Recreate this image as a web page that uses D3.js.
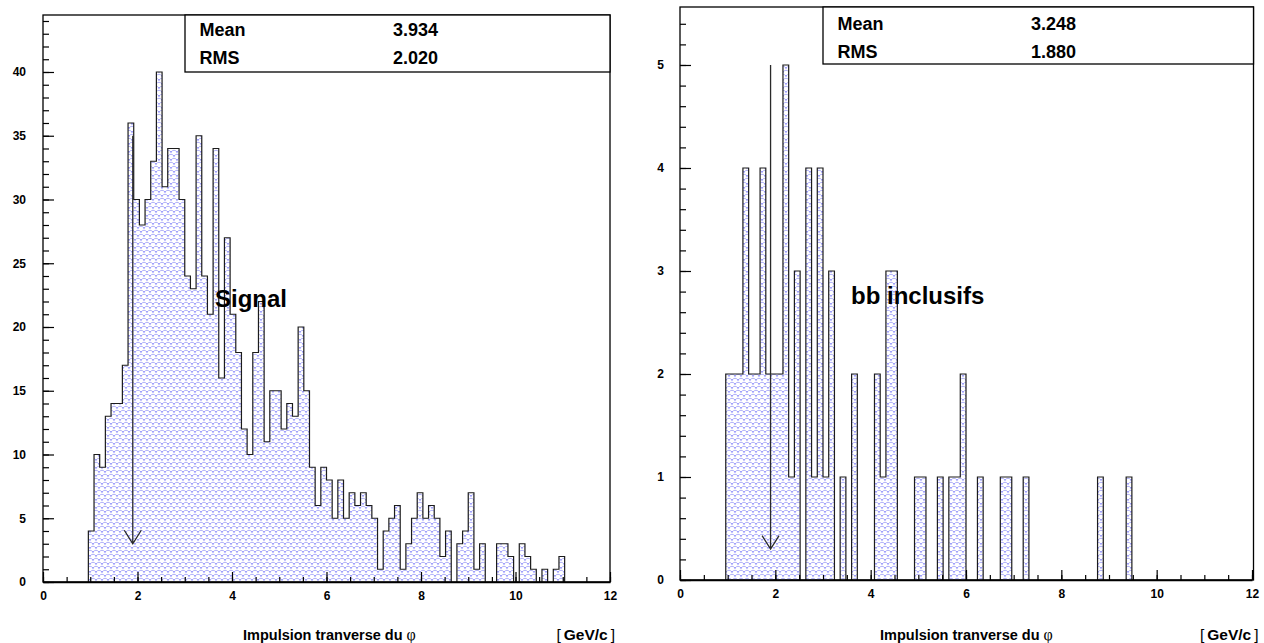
<!DOCTYPE html>
<html>
<head>
<meta charset="utf-8">
<script src="https://cdn.jsdelivr.net/npm/d3@7/dist/d3.min.js"></script>
<style>
  html, body { margin: 0; padding: 0; background: #fff; }
  svg { display: block; }
  text { font-family: "Liberation Sans", Arial, Helvetica, sans-serif; }
</style>
</head>
<body>
<svg id="chart" width="1264" height="643"></svg>
<script>
// ---------------- DATA ----------------
// histogram binning: 100 bins on [0, 12]
const xRange = [0, 12];
const nBins = 100;

// left panel: "Signal" counts per bin (bin 0 .. bin 99)
const signalCounts = [
  0, 0, 0, 0, 0, 0, 0, 0, 4, 10,
  9, 13, 14, 14, 17, 36, 30, 28, 30, 33,
  40, 31, 34, 34, 30, 24, 23, 35, 24, 21,
  34, 16, 27, 21, 18, 12, 10, 18, 22, 11,
  15, 15, 12, 14, 13, 20, 15, 9, 6, 9,
  8, 5, 8, 5, 7, 6, 7, 6, 5, 1,
  4, 5, 6, 1, 3, 5, 7, 5, 6, 5,
  2, 4, 0, 3, 4, 7, 1, 3, 0, 0,
  3, 3, 2, 0, 3, 2, 1, 0, 1, 0,
  1, 2, 0, 0, 0, 0, 0, 0, 0, 0
];

// right panel: "bb inclusifs" counts per bin (bin 0 .. bin 99)
const bbCounts = [
  0, 0, 0, 0, 0, 0, 0, 0, 2, 2,
  2, 4, 2, 2, 4, 2, 2, 2, 5, 1,
  3, 0, 4, 1, 4, 1, 3, 0, 1, 0,
  2, 0, 0, 0, 2, 1, 3, 3, 0, 0,
  0, 1, 1, 0, 0, 1, 0, 1, 1, 2,
  0, 0, 1, 0, 0, 0, 1, 1, 0, 0,
  1, 0, 0, 0, 0, 0, 0, 0, 0, 0,
  0, 0, 0, 1, 0, 0, 0, 0, 1, 0,
  0, 0, 0, 0, 0, 0, 0, 0, 0, 0,
  0, 0, 0, 0, 0, 0, 0, 0, 0, 0
];

const panelLabels = ["Signal", "bb inclusifs"];
const statNames = ["Mean", "RMS"];
const signalStats = ["3.934", "2.020"];
const bbStats = ["3.248", "1.880"];

const xMajorTicks = [0, 2, 4, 6, 8, 10, 12];
const xTickLabels = ["0", "2", "4", "6", "8", "10", "12"];
const signalYTicks = [0, 5, 10, 15, 20, 25, 30, 35, 40];
const signalYTickLabels = ["0", "5", "10", "15", "20", "25", "30", "35", "40"];
const bbYTicks = [0, 1, 2, 3, 4, 5];
const bbYTickLabels = ["0", "1", "2", "3", "4", "5"];

// arrow marks (x position, from value, to value)
const signalArrow = { x: 1.9, from: 35, to: 3.0 };
const bbArrow = { x: 1.9, from: 5, to: 0.3 };

const axisTitle = "Impulsion tranverse du ";
const axisUnit = "GeV/c";

// ---------------- DRAW ----------------
const svg = d3.select("#chart");
const defs = svg.append("defs");
const pat = defs.append("pattern")
  .attr("id", "scales")
  .attr("patternUnits", "userSpaceOnUse")
  .attr("width", 6).attr("height", 8);
pat.append("rect").attr("width", 6).attr("height", 8).attr("fill", "#ffffff");
pat.append("path")
  .attr("d", "M0,4 Q3,0.5 6,4 M-3,8 Q0,4.5 3,8 M3,8 Q6,4.5 9,8 M-3,0 Q0,-3.5 3,0 M3,0 Q6,-3.5 9,0")
  .attr("fill", "none").attr("stroke", "#a4a4f6").attr("stroke-width", 0.9);
pat.append("circle").attr("cx", 0).attr("cy", 4).attr("r", 0.8).attr("fill", "#8888ff");
pat.append("circle").attr("cx", 6).attr("cy", 4).attr("r", 0.8).attr("fill", "#8888ff");
pat.append("circle").attr("cx", 3).attr("cy", 8).attr("r", 0.8).attr("fill", "#8888ff");
pat.append("circle").attr("cx", 3).attr("cy", 0).attr("r", 0.8).attr("fill", "#8888ff");

const panels = [
  {
    counts: signalCounts, stats: signalStats, label: panelLabels[0], arrow: signalArrow,
    yTicks: signalYTicks, yTickLabels: signalYTickLabels, yMinorStep: 1, yMinorMax: 44,
    left: 43, right: 610, top: 15, bottom: 582, yMax: 44.47,
    boxLeft: 185, boxBottom: 72, statBase: [36, 64], labelX: 215, labelY: 307
  },
  {
    counts: bbCounts, stats: bbStats, label: panelLabels[1], arrow: bbArrow,
    yTicks: bbYTicks, yTickLabels: bbYTickLabels, yMinorStep: 0.2, yMinorMax: 5.4,
    left: 680, right: 1252, top: 7, bottom: 580, yMax: 5.563,
    boxLeft: 823, boxBottom: 64, statBase: [30, 57.5], labelX: 851, labelY: 304
  }
];

panels.forEach(p => {
  const g = svg.append("g");
  const x = d3.scaleLinear().domain(xRange).range([p.left, p.right]);
  const y = d3.scaleLinear().domain([0, p.yMax]).range([p.bottom, p.top]);
  const bw = (xRange[1] - xRange[0]) / nBins;

  // histogram step path
  let d = `M${x(xRange[0])},${y(0)}`;
  p.counts.forEach((v, i) => {
    const lo = xRange[0] + i * bw, hi = lo + bw;
    d += `L${x(lo)},${y(v)}L${x(hi)},${y(v)}`;
  });
  d += `L${x(xRange[1])},${y(0)}Z`;
  g.append("path").attr("d", d).attr("fill", "url(#scales)").attr("stroke", "none");
  g.append("path").attr("d", d).attr("fill", "none")
    .attr("stroke", "#1c1c1c").attr("stroke-width", 1.2).attr("stroke-linejoin", "miter");

  // frame
  const frameRight = p.right + (p === panels[1] ? 1.5 : 0);
  g.append("rect")
    .attr("x", p.left).attr("y", p.top)
    .attr("width", frameRight - p.left).attr("height", p.bottom - p.top)
    .attr("fill", "none").attr("stroke", "#000").attr("stroke-width", 1.3);

  // x axis: minor ticks
  const xMinor = d3.range(0, 24.5, 1).map(k => k * 0.5);
  g.append("g").attr("transform", `translate(0,${p.bottom})`)
    .call(d3.axisBottom(x).tickValues(xMinor).tickSizeInner(-5).tickSizeOuter(0).tickFormat(""))
    .call(a => a.select(".domain").remove())
    .call(a => a.selectAll("line").attr("stroke", "#000").attr("stroke-width", 1.2));
  // x axis: major ticks + labels
  g.append("g").attr("transform", `translate(0,${p.bottom})`)
    .call(d3.axisBottom(x).tickValues(xMajorTicks).tickSizeInner(-10).tickSizeOuter(0)
      .tickPadding(9).tickFormat((t, i) => xTickLabels[i]))
    .call(a => a.select(".domain").attr("stroke", "#000").attr("stroke-width", 1.3))
    .call(a => a.selectAll("line").attr("stroke", "#000").attr("stroke-width", 1.2))
    .call(a => a.selectAll("text").attr("font-family", "Liberation Sans, Arial, sans-serif")
      .attr("font-weight", "bold").attr("font-size", 12).attr("fill", "#000"));

  // y axis minor
  const nMinor = Math.round(p.yMinorMax / p.yMinorStep);
  const yMinor = d3.range(0, nMinor + 1).map(k => +(k * p.yMinorStep).toFixed(3));
  g.append("g").attr("transform", `translate(${p.left},0)`)
    .call(d3.axisLeft(y).tickValues(yMinor).tickSizeInner(-6).tickSizeOuter(0).tickFormat(""))
    .call(a => a.select(".domain").remove())
    .call(a => a.selectAll("line").attr("stroke", "#000").attr("stroke-width", 1.2));
  // y axis major
  g.append("g").attr("transform", `translate(${p.left},0)`)
    .call(d3.axisLeft(y).tickValues(p.yTicks).tickSizeInner(-11).tickSizeOuter(0)
      .tickPadding(p === panels[0] ? 17 : 16).tickFormat((t, i) => p.yTickLabels[i]))
    .call(a => a.select(".domain").remove())
    .call(a => a.selectAll("line").attr("stroke", "#000").attr("stroke-width", 1.2))
    .call(a => a.selectAll("text").attr("font-family", "Liberation Sans, Arial, sans-serif")
      .attr("font-weight", "bold").attr("font-size", 12).attr("fill", "#000"));

  // arrow
  const ax = x(p.arrow.x), ay0 = y(p.arrow.from), ay1 = y(p.arrow.to);
  g.append("path")
    .attr("d", `M${ax},${ay0}L${ax},${ay1}M${ax - 8.5},${ay1 - 13.5}L${ax},${ay1}L${ax + 8.5},${ay1 - 13.5}`)
    .attr("fill", "none").attr("stroke", "#2a2a2a").attr("stroke-width", 1.3);

  // stats box
  g.append("rect")
    .attr("x", p.boxLeft).attr("y", p.top)
    .attr("width", frameRight - p.boxLeft).attr("height", p.boxBottom - p.top)
    .attr("fill", "#fff").attr("stroke", "#000").attr("stroke-width", 1.3);
  statNames.forEach((nm, i) => {
    g.append("text").attr("x", p.boxLeft + 14.5).attr("y", p.statBase[i])
      .attr("font-weight", "bold").attr("font-size", 18).attr("fill", "#000").text(nm);
    g.append("text").attr("x", p.boxLeft + 208).attr("y", p.statBase[i])
      .attr("font-weight", "bold").attr("font-size", 18).attr("fill", "#000").text(p.stats[i]);
  });

  // panel label
  g.append("text").attr("x", p.labelX).attr("y", p.labelY)
    .attr("font-weight", "bold").attr("font-size", 24).attr("fill", "#000").text(p.label);

  // axis title
  const t = g.append("text").attr("x", p.left + 200).attr("y", 640)
    .attr("font-size", 14.5).attr("fill", "#000");
  t.append("tspan").attr("font-weight", "bold").text(axisTitle);
  t.append("tspan").attr("font-family", "Liberation Serif, serif").attr("font-size", 16).text("φ");

  const u = g.append("text").attr("x", frameRight + 5).attr("y", 640)
    .attr("text-anchor", "end").attr("font-size", 15.5).attr("fill", "#000");
  u.append("tspan").attr("font-weight", "normal").text("[");
  u.append("tspan").attr("font-weight", "bold").attr("dx", 3).text(axisUnit);
  u.append("tspan").attr("font-weight", "normal").attr("dx", 3).text("]");
});
</script>
</body>
</html>
